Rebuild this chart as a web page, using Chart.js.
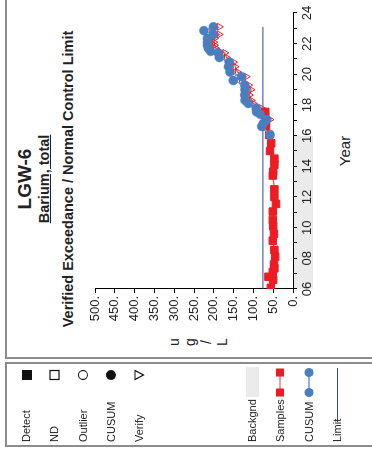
<!DOCTYPE html>
<html>
<head>
<meta charset="utf-8">
<script src="https://cdn.jsdelivr.net/npm/chart.js@4.4.1/dist/chart.umd.min.js"></script>
<style>
    html, body { margin: 0; padding: 0; background: #fff; width: 372px; height: 455px; overflow: hidden; }
    /* the chart is laid out landscape and turned a quarter turn */
    #page {
        position: absolute; left: 0; top: 0; width: 455px; height: 372px;
        transform-origin: 0 0; transform: translateY(455px) rotate(-90deg);
        overflow: hidden; font-family: "Liberation Sans", Arial, sans-serif; color: #222;
    }
    .box { position: absolute; border: 2px solid #8c8c8c; box-sizing: border-box; }
    .t { position: absolute; white-space: nowrap; }
    .title { left: 96px; width: 360px; text-align: center; font-weight: bold; }
    .lg { position: absolute; left: 13px; font-size: 11px; line-height: 12px; color: #222; }
    canvas, svg { position: absolute; left: 0; top: 0; }
</style>
</head>
<body>
<div id="page">
    <div class="box" style="left:96px;top:5px;width:400px;height:420px;"></div>
    <div class="box" style="left:8px;top:5px;width:85px;height:420px;"></div>

    <div class="t title" style="top:15px;font-size:19px;line-height:19px;">LGW-6</div>
    <div class="t title" style="top:37px;font-size:14.5px;line-height:15px;"><span style="text-decoration:underline;">Barium, total</span></div>
    <div class="t title" style="top:61px;font-size:14.5px;line-height:15px;">Verified Exceedance / Normal Control Limit</div>

    <div class="t" style="left:103px;top:166px;width:20px;text-align:center;font-size:14px;line-height:16px;">u<br>g<br>/<br>L</div>
    <div class="t" style="left:274px;top:337px;width:60px;text-align:center;font-size:15px;line-height:15px;">Year</div>

    <canvas id="chart" width="455" height="372"></canvas>

    <svg width="455" height="372">
        <rect x="75" y="22" width="10" height="10" fill="#111"/>
        <rect x="75.5" y="50" width="9" height="9" fill="#fff" stroke="#111" stroke-width="1.2"/>
        <circle cx="80" cy="83" r="4.5" fill="none" stroke="#111" stroke-width="1.2"/>
        <circle cx="80" cy="111" r="5" fill="#111"/>
        <polygon points="75.5,135 84.5,135 80,143.5" fill="none" stroke="#111" stroke-width="1.2"/>

        <rect x="58" y="246" width="30" height="13" fill="#ebebeb"/>
        <line x1="62.5" y1="280" x2="82.5" y2="280" stroke="#f07a7a" stroke-width="1.5"/>
        <rect x="58.5" y="276" width="8" height="8" fill="#ed1c24"/>
        <rect x="78.5" y="276" width="8" height="8" fill="#ed1c24"/>
        <line x1="62.5" y1="309" x2="82.5" y2="309" stroke="#8db0de" stroke-width="2"/>
        <circle cx="62.5" cy="309" r="4.5" fill="#4a7ebf"/>
        <circle cx="82.5" cy="309" r="4.5" fill="#4a7ebf"/>
        <line x1="33" y1="337.5" x2="87" y2="337.5" stroke="#34469a" stroke-width="1"/>
    </svg>

    <div class="lg" style="top:20px;">Detect</div>
    <div class="lg" style="top:48px;">ND</div>
    <div class="lg" style="top:77px;">Outlier</div>
    <div class="lg" style="top:105px;">CUSUM</div>
    <div class="lg" style="top:133px;">Verify</div>
    <div class="lg" style="top:246px;">Backgnd</div>
    <div class="lg" style="top:274px;">Samples</div>
    <div class="lg" style="top:303px;">CUSUM</div>
    <div class="lg" style="top:331px;">Limit</div>
</div>

<script>
// Samples (D = detect, V = verified exceedance)
const sampleYears = [2006.08, 2006.6, 2006.8, 2007.1, 2007.35, 2007.6, 2008.1, 2008.55, 2009.15, 2009.6,
    2010.1, 2010.5, 2011.05, 2011.55, 2012.0, 2012.5, 2013.4, 2013.65, 2014.1, 2014.5,
    2015.0, 2015.5, 2016.05, 2016.6, 2017.05, 2017.35, 2017.55, 2017.8, 2018.1, 2018.3,
    2018.65, 2019.0, 2019.3, 2019.6, 2019.85, 2020.15, 2020.5, 2020.8, 2021.1, 2021.4,
    2021.5, 2021.7, 2021.9, 2022.1, 2022.35, 2022.6, 2022.85, 2023.1];
const sampleValues = [56, 50, 62, 51, 47, 48, 45, 47, 51, 48,
    50, 51, 51, 43, 47, 47, 51, 50, 47, 47,
    58, 55, 60, 68, 58, 71, 70, 80, 100, 105,
    110, 106, 112, 130, 118, 140, 146, 150, 168, 172,
    186, 195, 198, 200, 198, 186, 205, 186];
const sampleFlags = ['D', 'D', 'D', 'D', 'D', 'D', 'D', 'D', 'D', 'D',
    'D', 'D', 'D', 'D', 'D', 'D', 'D', 'D', 'D', 'D',
    'D', 'D', 'D', 'D', 'V', 'D', 'D', 'V', 'V', 'V',
    'V', 'V', 'V', 'V', 'V', 'V', 'V', 'V', 'V', 'V',
    'V', 'V', 'V', 'V', 'V', 'V', 'V', 'V'];

const cusumYears = [2016.05, 2016.6, 2016.8, 2017.05, 2017.4, 2017.55, 2017.8, 2018.1, 2018.3, 2018.65,
    2019.0, 2019.3, 2019.6, 2019.85, 2020.15, 2020.5, 2020.8, 2021.1, 2021.4, 2021.5,
    2021.7, 2021.9, 2022.1, 2022.35, 2022.6, 2022.85, 2023.1];
const cusumValues = [58, 79, 75, 66, 83, 92, 93, 113, 121, 122,
    121, 122, 151, 130, 159, 163, 161, 186, 189, 208,
    214, 216, 216, 216, 201, 225, 201];

const limitYears = [2006, 2023.1];
const limitValue = 76;
const backgroundYears = [2006, 2016];

const yearMin = 2006, yearMax = 2024;
const valueMin = 0, valueMax = 500, valueStep = 50;

const RED = '#ed1c24';
const BLUE = '#4a7ebf';

// light grey strip under the axis marking the background period
const backgroundBand = {
    id: 'backgroundBand',
    beforeDraw(chart) {
        const { ctx, chartArea, scales } = chart;
        const x0 = scales.x.getPixelForValue(backgroundYears[0]);
        const x1 = scales.x.getPixelForValue(backgroundYears[1]);
        ctx.save();
        ctx.fillStyle = '#ebebeb';
        ctx.fillRect(x0, chartArea.bottom, x1 - x0, 20);
        ctx.restore();
    }
};

const isVerify = c => sampleFlags[c.dataIndex] === 'V';

new Chart(document.getElementById('chart'), {
    type: 'line',
    data: {
        datasets: [
            {
                label: 'CUSUM',
                data: cusumYears.map((x, i) => ({ x, y: cusumValues[i] })),
                borderColor: '#7ea6da',
                borderWidth: 1.5,
                pointStyle: 'circle',
                pointRadius: 4.5,
                pointBackgroundColor: BLUE,
                pointBorderColor: BLUE,
                pointBorderWidth: 0.5
            },
            {
                label: 'Samples',
                data: sampleYears.map((x, i) => ({ x, y: sampleValues[i] })),
                borderColor: '#f04a50',
                borderWidth: 1.2,
                pointStyle: c => isVerify(c) ? 'triangle' : 'rect',
                pointRotation: c => isVerify(c) ? 180 : 0,
                pointRadius: c => isVerify(c) ? 4 : 5.3,
                pointBackgroundColor: c => isVerify(c) ? 'rgba(255,255,255,0)' : RED,
                pointBorderColor: RED,
                pointBorderWidth: 1
            },
            {
                label: 'Limit',
                data: limitYears.map(x => ({ x, y: limitValue })),
                borderColor: '#34469a',
                borderWidth: 1,
                pointRadius: 0
            }
        ]
    },
    options: {
        responsive: false,
        animation: false,
        layout: { padding: { left: 126, top: 95, right: 13, bottom: 49 } },
        plugins: { legend: { display: false }, tooltip: { enabled: false } },
        scales: {
            x: {
                type: 'linear',
                min: yearMin,
                max: yearMax,
                afterFit: s => { s.height = 30; },
                grid: { drawOnChartArea: false, color: '#000', tickLength: 4 },
                border: { color: '#000', width: 1 },
                ticks: {
                    stepSize: 1,
                    autoSkip: false,
                    maxRotation: 0,
                    padding: 3,
                    color: '#222',
                    font: { family: 'Liberation Sans', size: 13 },
                    callback: v => v % 2 === 0 ? String(v % 100).padStart(2, '0') : ''
                }
            },
            y: {
                min: valueMin,
                max: valueMax,
                afterFit: s => { s.width = 40; },
                grid: { drawOnChartArea: false, color: '#000', tickLength: 4 },
                border: { color: '#000', width: 1 },
                ticks: {
                    stepSize: valueStep,
                    padding: 3,
                    color: '#222',
                    font: { family: 'Liberation Sans', size: 13 },
                    callback: v => v + '.'
                }
            }
        }
    },
    plugins: [backgroundBand]
});
</script>
</body>
</html>
